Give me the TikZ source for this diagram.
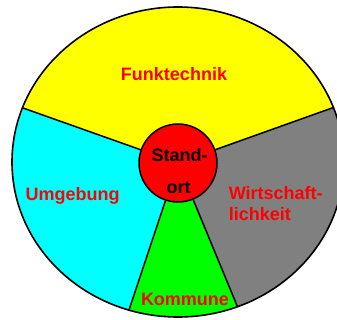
\documentclass[tikz,border=0pt]{standalone}
\usepackage{fontspec}
\setmainfont{Liberation Sans}
\usetikzlibrary{calc}
\definecolor{cyellow}{RGB}{255,255,0}
\definecolor{ccyan}{RGB}{0,255,255}
\definecolor{cgreen}{RGB}{0,255,0}
\definecolor{cgray}{RGB}{128,128,128}
\definecolor{cred}{RGB}{255,0,0}
\begin{document}
\begin{tikzpicture}[x=1pt,y=-1pt,line width=1.5pt,
  lbl/.style={font=\fontsize{18}{20}\selectfont\bfseries,text=cred,inner sep=0pt},
  corelbl/.style={font=\fontsize{18}{20}\selectfont\bfseries,text=black,inner sep=0pt},
  divider/.style={draw=black,line width=1.5pt},
  outline/.style={draw=black,line width=1.6pt}]
\useasboundingbox (0,0) rectangle (337,320);
\coordinate (c) at (178,163);
\coordinate (p1) at (23,108);
\coordinate (p2) at (332,108);
\coordinate (p3) at (128,313);
\coordinate (p4) at (238,308);
\begin{scope}
  \clip (178,162) ellipse [x radius=166, y radius=155];
  \fill[cyellow] (c) -- ($(c)!2!(p2)$) -- (500,-200) -- (-200,-200) -- ($(c)!2!(p1)$) -- cycle;
  \fill[ccyan] (c) -- ($(c)!2!(p1)$) -- (-200,600) -- ($(c)!2!(p3)$) -- cycle;
  \fill[cgreen] (c) -- ($(c)!2!(p3)$) -- ($(c)!2!(p4)$) -- cycle;
  \fill[cgray] (c) -- ($(c)!2!(p4)$) -- (600,600) -- (600,53) -- ($(c)!2!(p2)$) -- cycle;
\end{scope}
\node[circle,fill=cred,draw=black,line width=1.5pt,minimum size=78pt,inner sep=0pt] (core) at (c) {};
\begin{scope}
  \clip (178,162) ellipse [x radius=166, y radius=155];
  \draw[divider] (core) -- ($(c)!1.05!(p1)$);
  \draw[divider] (core) -- ($(c)!1.05!(p2)$);
  \draw[divider] (core) -- ($(c)!1.05!(p3)$);
  \draw[divider] (core) -- ($(c)!1.05!(p4)$);
\end{scope}
\draw[outline] (178,162) ellipse [x radius=166, y radius=155];
\node[lbl,anchor=base] (funk) at (174,81) {Funktechnik};
\node[lbl,anchor=base] (umg) at (72.5,201) {Umgebung};
\node[lbl,anchor=base west] (wirt1) at (228,200) {Wirtschaft-};
\node[lbl,anchor=base west] (wirt2) at (228,221) {lichkeit};
\node[lbl,anchor=base] (komm) at (185,305) {Kommune};
\node[corelbl,anchor=base] (stand) at (179.5,162) {Stand-};
\node[corelbl,anchor=base] (ort) at (178.5,194) {ort};
\end{tikzpicture}
\end{document}
